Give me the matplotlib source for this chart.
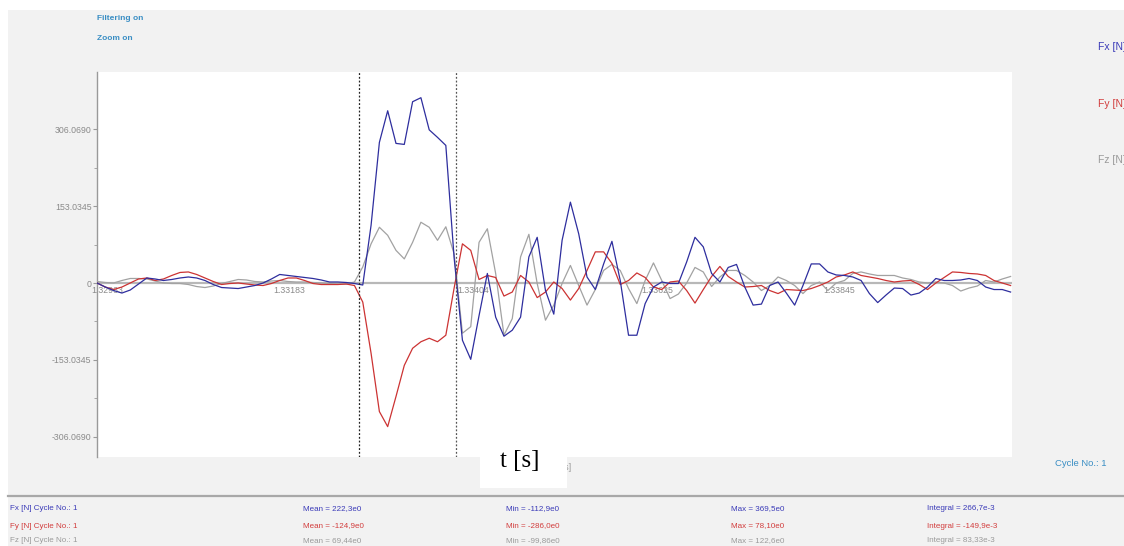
import matplotlib
matplotlib.use('Agg')
import matplotlib.pyplot as plt
from matplotlib.patches import Rectangle
from matplotlib.lines import Line2D

# ---------------- data ----------------
t_start = 1.32963          # s, first sample
t_step = 0.0001            # s, 10 kHz sampling
t_end = 1.340647           # right end of visible window

fx = [0, -8, -15, -20, -14, -2, 10, 8, 5, 7, 10, 12, 10, 5, -3, -9, -10, -11, -8, -5,
      0, 8, 17, 15, 13, 11, 9, 6, 2, 2, 1, -1, -4, 115, 280, 343, 278, 276, 361, 369,
      305, 290, 274, 50, -114, -152, -65, 19, -68, -106, -94, -68, 52, 91, -15, -62, 85, 161, 98, 12,
      -13, 38, 83, 5, -104, -104, -41, -8, 2, -1, -1, 42, 91, 72, 19, 2, 31, 37, -8, -44,
      -42, -5, 2, -20, -44, -5, 38, 38, 22, 16, 15, 12, 5, -21, -39, -24, -10, -11, -24, -20,
      -8, 9, 5, 5, 6, 9, 5, -8, -13, -13, -18]
fy = [0, -8, -13, -8, 0, 8, 10, 5, 8, 15, 21, 22, 17, 10, 3, -3, -1, 0, -2, -4,
      -5, -1, 5, 10, 10, 5, -1, -3, -3, -3, -2, -5, -38, -140, -256, -286, -226, -164, -130, -117,
      -110, -117, -104, -10, 78, 65, 7, 15, 11, -26, -18, 15, 2, -29, -18, 2, -11, -34, -11, 25,
      62, 62, 39, -3, 5, 20, 11, -8, -13, 2, 4, -15, -40, -13, 13, 33, 13, 2, -8, -7,
      -5, -15, -21, -13, -14, -15, -11, -5, 2, 12, 16, 22, 15, 12, 9, 5, 2, 4, 5, -3,
      -13, 0, 11, 22, 21, 19, 18, 15, 5, 0, -5]
fz = [3, 1, 0, 5, 9, 9, 8, 4, 0, -1, -1, -3, -7, -9, -6, -1, 3, 7, 6, 3,
      2, 4, 5, 3, 2, 2, 1, 0, -1, -2, -2, 2, 32, 78, 111, 95, 65, 48, 81, 121,
      111, 85, 112, 58, -100, -87, 81, 108, 19, -104, -71, 52, 97, -1, -74, -44, -1, 35, -5, -44,
      -13, 25, 37, 25, -11, -41, 5, 40, 5, -31, -22, 0, 31, 22, -7, 12, 25, 25, 15, 2,
      -15, -5, 12, 5, -5, -21, -5, 2, -15, 0, 5, 19, 22, 18, 15, 15, 15, 10, 7, 2,
      0, 2, 0, -5, -16, -10, -6, 5, 2, 8, 13]
t = [t_start + i * t_step for i in range(len(fx))]

y_ticks = [306.069, 153.0345, 0.0, -153.0345, -306.069]
y_tick_labels = ["306.0690", "153.0345", "0", "-153.0345", "-306.0690"]
x_ticks = [1.32963, 1.33183, 1.33404, 1.33625, 1.33845]
x_tick_labels = ["1.32963", "1.33183", "1.33404", "1.33625", "1.33845"]
cursors = [1.332785, 1.333953]

series_names = ["Fx [N]", "Fy [N]", "Fz [N]"]
stat_mean = ["Mean = 222,3e0", "Mean = -124,9e0", "Mean = 69,44e0"]
stat_min = ["Min = -112,9e0", "Min = -286,0e0", "Min = -99,86e0"]
stat_max = ["Max = 369,5e0", "Max = 78,10e0", "Max = 122,6e0"]
stat_int = ["Integral = 266,7e-3", "Integral = -149,9e-3", "Integral = 83,33e-3"]

# ---------------- style ----------------
W, H = 1124, 546
line_colors = ["#2e2e9e", "#cc3333", "#a2a2a2"]
text_colors = ["#3a3ab8", "#d23c3c", "#9a9a9a"]
info_color = "#3a8ec4"
axis_gray = "#9a9a9a"
sans = "Liberation Sans"

fig = plt.figure(figsize=(W / 100, H / 100), dpi=100, facecolor="white")

def px(x, y):
    return x / W, 1 - y / H

# gray panel background
bg = Rectangle(px(8, 546), (W - 8) / W, (546 - 10) / H,
               transform=fig.transFigure, facecolor="#f2f2f2",
               edgecolor="none", zorder=-10)
fig.add_artist(bg)

ax = fig.add_axes([97 / W, (H - 457) / H, 915 / W, 385 / H])
ax.set_zorder(1)
ax.set_facecolor("white")
ax.set_xlim(t_start, t_end)
ax.set_ylim(-346.5, 420.2)
for s in ["top", "right", "bottom"]:
    ax.spines[s].set_visible(False)
ax.spines["left"].set_color(axis_gray)
ax.spines["left"].set_linewidth(1.0)

ax.set_yticks(y_ticks)
ax.set_yticklabels(y_tick_labels, fontsize=6.3, color="#8a8a8a", family=sans)
ax.set_yticks([229.55, 76.52, -76.52, -229.55], minor=True)
ax.tick_params(axis="y", which="major", length=3, color=axis_gray, pad=1)
ax.tick_params(axis="y", which="minor", length=2, color=axis_gray)
ax.set_xticks([])

# zero axis line
ax.axhline(0, color="#b8b8b8", lw=1.6, zorder=1)
for xt, lab in zip(x_ticks, x_tick_labels):
    ax.annotate(lab, xy=(xt, 0), xytext=(-6, -3), textcoords="offset pixels",
                ha="left", va="top", fontsize=6.3, color="#8a8a8a", family=sans,
                zorder=2)

# series
ax.plot(t, fz, color=line_colors[2], lw=0.9, zorder=3)
ax.plot(t, fy, color=line_colors[1], lw=0.9, zorder=4)
ax.plot(t, fx, color=line_colors[0], lw=0.9, zorder=5)

# cursors
for c, col in zip(cursors, ["#222222", "#555555"]):
    ax.axvline(c, color=col, lw=0.9, ls=(0, (1.5, 1.5)), zorder=6)

# top-left info
fig.text(*px(97, 18), "Filtering on", fontsize=6, fontweight="bold",
         color=info_color, family=sans, va="center", ha="left")
fig.text(*px(97, 38), "Zoom on", fontsize=6, fontweight="bold",
         color=info_color, family=sans, va="center", ha="left")

# right legend
for name, col, yy in zip(series_names, text_colors, [47, 104, 160]):
    fig.text(*px(1098, yy), name, fontsize=7.5, color=col, family=sans,
             va="center", ha="left")

fig.text(*px(1055, 463), "Cycle No.: 1", fontsize=6.8, color=info_color,
         family=sans, va="center", ha="left")

# hidden original axis label and white box with new label
fig.text(*px(571, 468), "t [s]", fontsize=6.3, color="#9a9a9a", family=sans,
         va="center", ha="right", zorder=2)
box = Rectangle(px(480, 488), 87 / W, 40 / H, transform=fig.transFigure,
                facecolor="white", edgecolor="none", zorder=5)
fig.add_artist(box)
fig.text(*px(520, 461), "t [s]", fontsize=18, color="black",
         family="Liberation Serif", va="center", ha="center", zorder=6)

# bottom stats table
fig.add_artist(Line2D([8 / W, 1.0], [1 - 496 / H, 1 - 496 / H], transform=fig.transFigure,
                      color="#a8a8a8", lw=1.6))
for k, yy in enumerate([509, 526, 541]):
    col = text_colors[k]
    fig.text(*px(10, yy), series_names[k] + " Cycle No.: 1", fontsize=5.8, color=col,
             family=sans, va="center", ha="left")
    fig.text(*px(303, yy), stat_mean[k], fontsize=5.8, color=col, family=sans,
             va="center", ha="left")
    fig.text(*px(506, yy), stat_min[k], fontsize=5.8, color=col, family=sans,
             va="center", ha="left")
    fig.text(*px(731, yy), stat_max[k], fontsize=5.8, color=col, family=sans,
             va="center", ha="left")
    fig.text(*px(927, yy), stat_int[k], fontsize=5.8, color=col, family=sans,
             va="center", ha="left")

fig.savefig("out.png", dpi=100, facecolor=fig.get_facecolor())
